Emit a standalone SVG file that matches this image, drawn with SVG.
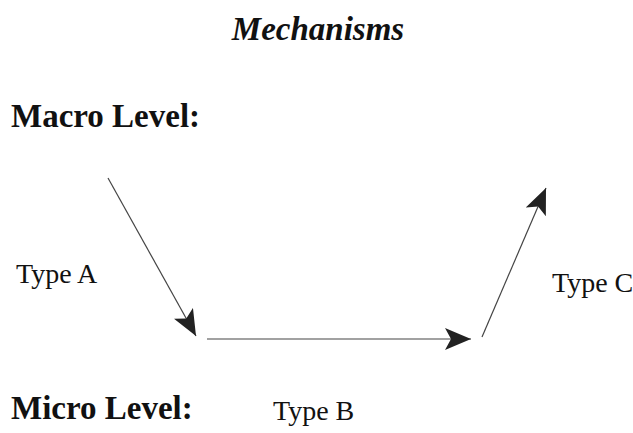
<svg xmlns="http://www.w3.org/2000/svg" width="633" height="433" viewBox="0 0 633 433">
<style>
text{font-family:"Liberation Serif","Times New Roman",serif;fill:#111}
.title{font-size:33px;font-weight:bold;font-style:italic}
.level{font-size:33px;font-weight:bold}
.lbl{font-size:28px}
.conn{stroke:#444;stroke-width:1.2;fill:none}
</style>
<defs>
<marker id="ah" viewBox="0 0 26 22" refX="26" refY="11" markerWidth="26" markerHeight="22" markerUnits="userSpaceOnUse" orient="auto">
<path d="M0,0 L26,11 L0,22 L6,11 Z" fill="#222"/>
</marker>
</defs>
<rect width="633" height="433" fill="#fff"/>
<text class="title" x="318" y="40" text-anchor="middle">Mechanisms</text>
<g id="macro"><text class="level" x="11" y="127">Macro Level:</text></g>
<g id="micro"><text class="level" x="11" y="419">Micro Level:</text></g>
<g id="connectors">
<line class="conn" x1="108" y1="178" x2="196" y2="336" marker-end="url(#ah)"/>
<line class="conn" x1="207" y1="339" x2="471" y2="339" marker-end="url(#ah)"/>
<line class="conn" x1="482" y1="337" x2="546" y2="188" marker-end="url(#ah)"/>
</g>
<g id="typeA"><text class="lbl" x="16" y="283">Type A</text></g>
<g id="typeB"><text class="lbl" x="273" y="420">Type B</text></g>
<g id="typeC"><text class="lbl" x="552" y="292">Type C</text></g>
</svg>
